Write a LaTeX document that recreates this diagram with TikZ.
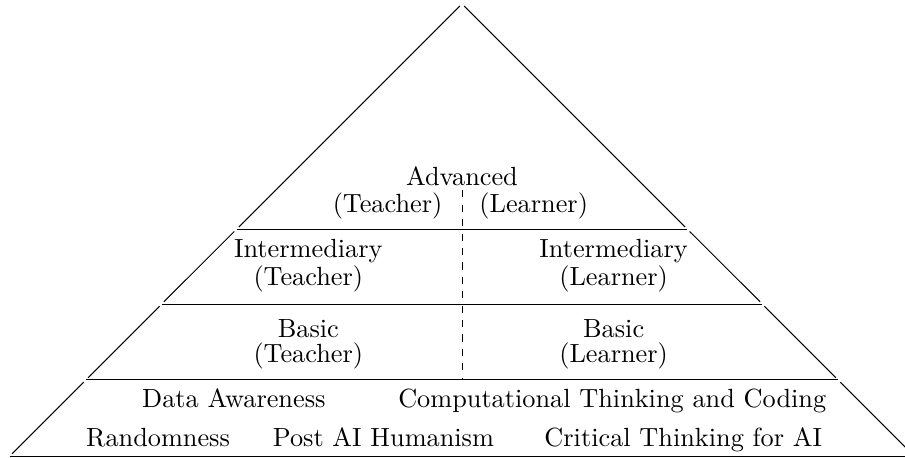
\documentclass[tikz,border=0pt]{standalone}
\usepackage{tikz}
\usetikzlibrary{positioning}

\begin{document}
\begin{tikzpicture}[
    side/.style={draw, shorten <=1.3pt, shorten >=1.3pt},
    level/.style={draw},
    split/.style={draw, dashed},
    lbl/.style={anchor=base, inner sep=0pt, font=\fontsize{10.95}{13.6}\selectfont}]

    \useasboundingbox (-6.764,-0.015) rectangle (6.486,6.676);

    % corners of the pyramid and its layers
    \coordinate (apex) at (0,6.62);
    \coordinate (l3) at (-3.300,3.320);
    \coordinate (r3) at (3.300,3.320);
    \coordinate (l2) at (-4.395,2.225);
    \coordinate (r2) at (4.395,2.225);
    \coordinate (l1) at (-5.507,1.113);
    \coordinate (r1) at (5.507,1.113);
    \coordinate (l0) at (-6.620,0);
    \coordinate (r0) at (6.620,0);
    \coordinate (splittop) at (0,3.89);
    \coordinate (splitbot) at (0,1.113);

    % horizontal layer lines
    \draw [level] (l3) -- (r3);
    \draw [level] (l2) -- (r2);
    \draw [level] (l1) -- (r1);
    \draw [level] (l0) -- (r0);

    % slanted sides, one piece per layer
    \draw [side] (apex) -- (l3);
    \draw [side] (l3) -- (l2);
    \draw [side] (l2) -- (l1);
    \draw [side] (l1) -- (l0);
    \draw [side] (apex) -- (r3);
    \draw [side] (r3) -- (r2);
    \draw [side] (r2) -- (r1);
    \draw [side] (r1) -- (r0);

    % teacher / learner divide
    \draw [split] (splittop) -- (splitbot);

    % top layer
    \node [lbl] (adv) at (0,3.953) {Advanced};
    \node [lbl] (advT) at (-1.09,3.56) {(Teacher)};
    \node [lbl] (advL) at (1.05,3.56) {(Learner)};

    % intermediary layer
    \node [lbl] (intT) at (-2.25,2.90) {Intermediary};
    \node [lbl] (intTr) at (-2.25,2.50) {(Teacher)};
    \node [lbl] (intL) at (2.22,2.90) {Intermediary};
    \node [lbl] (intLr) at (2.22,2.50) {(Learner)};

    % basic layer
    \node [lbl] (basT) at (-2.25,1.742) {Basic};
    \node [lbl] (basTr) at (-2.25,1.362) {(Teacher)};
    \node [lbl] (basL) at (2.22,1.742) {Basic};
    \node [lbl] (basLr) at (2.22,1.362) {(Learner)};

    % foundation
    \node [lbl] (data) at (-3.34,0.703) {Data Awareness};
    \node [lbl] (comp) at (2.20,0.703) {Computational Thinking and Coding};
    \node [lbl] (rand) at (-4.45,0.132) {Randomness};
    \node [lbl] (post) at (-1.15,0.132) {Post AI Humanism};
    \node [lbl] (crit) at (3.24,0.132) {Critical Thinking for AI};
\end{tikzpicture}
\end{document}
